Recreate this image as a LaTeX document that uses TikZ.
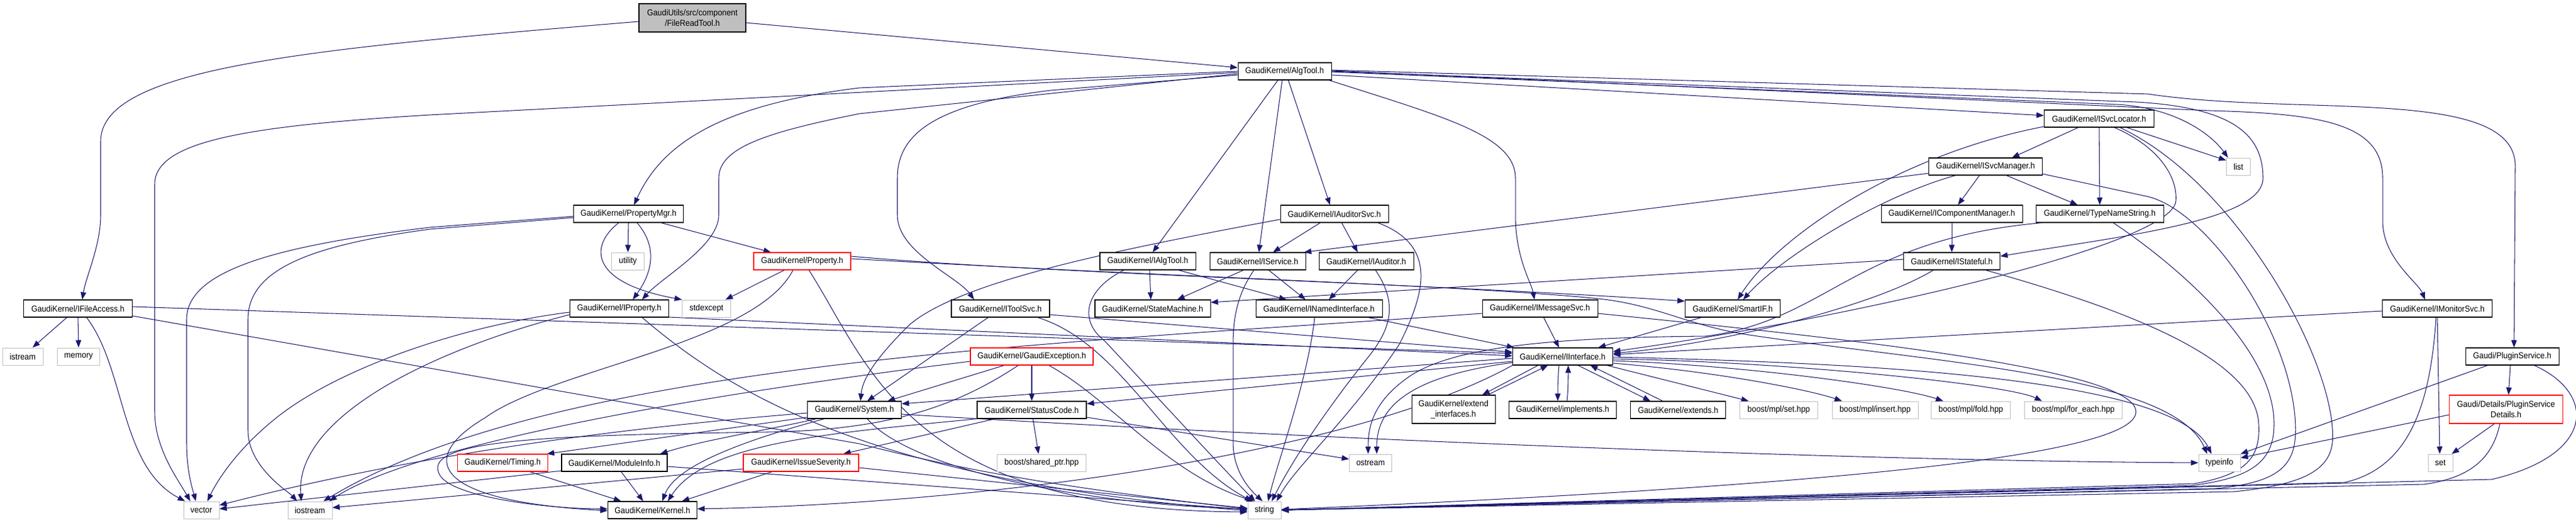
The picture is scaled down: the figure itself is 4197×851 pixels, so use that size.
\documentclass[tikz,border=0pt]{standalone}
\usepackage{fontspec}
\setmainfont{Liberation Sans}[FakeStretch=0.92]
\usetikzlibrary{arrows.meta}
\definecolor{edgec}{HTML}{191970}
\definecolor{greyb}{HTML}{BFBFBF}
\definecolor{redb}{HTML}{FF0000}
\definecolor{fillg}{HTML}{BFBFBF}
\pgfdeclarelayer{bg}
\pgfsetlayers{bg,main}
\begin{document}
\begin{tikzpicture}[x=1pt,y=1pt,
  nb/.style={rectangle, draw=black, line width=1.05pt, fill=white, inner sep=0pt, minimum height=28pt, align=center, font=\fontsize{14}{16.7}\selectfont, text=black},
  gb/.style={nb, draw=greyb, line width=1pt},
  rb/.style={nb, draw=redb},
  lnk/.style={draw=edgec, line width=1.05pt, -{Triangle[length=12pt,width=9pt]}}]
\useasboundingbox (0,0) rectangle (4197,-851);
% ---------- nodes ----------
\node[nb, fill=fillg, minimum width=174pt, minimum height=46pt] (frt) at (1128,-29) {GaudiUtils/src/component\\/FileReadTool.h};
\node[nb, minimum width=152pt] (algtool) at (2093,-116) {GaudiKernel/AlgTool.h};
\node[nb, minimum width=179pt] (svcloc) at (3420,-193) {GaudiKernel/ISvcLocator.h};
\node[nb, minimum width=185pt] (svcmgr) at (3235,-271) {GaudiKernel/ISvcManager.h};
\node[gb, minimum width=39pt] (list) at (3647,-271) {list};
\node[nb, minimum width=179pt] (propmgr) at (1024,-348) {GaudiKernel/PropertyMgr.h};
\node[nb, minimum width=176pt] (audsvc) at (2174,-348) {GaudiKernel/IAuditorSvc.h};
\node[nb, minimum width=230pt] (compmgr) at (3180,-348) {GaudiKernel/IComponentManager.h};
\node[nb, minimum width=208pt] (typename) at (3421,-348) {GaudiKernel/TypeNameString.h};
\node[gb, minimum width=53pt] (utility) at (1023,-425) {utility};
\node[rb, minimum width=158pt] (property) at (1307,-425) {GaudiKernel/Property.h};
\node[nb, minimum width=156pt] (ialgtool) at (1870,-425) {GaudiKernel/IAlgTool.h};
\node[nb, minimum width=156pt] (iservice) at (2049,-425) {GaudiKernel/IService.h};
\node[nb, minimum width=154pt] (iauditor) at (2226,-425) {GaudiKernel/IAuditor.h};
\node[nb, minimum width=157pt] (istateful) at (3180,-425) {GaudiKernel/IStateful.h};
\node[nb, minimum width=177pt] (ifile) at (127,-502) {GaudiKernel/IFileAccess.h};
\node[nb, minimum width=161pt] (iprop) at (1009,-502) {GaudiKernel/IProperty.h};
\node[gb, minimum width=79pt] (stdexcept) at (1151,-502) {stdexcept};
\node[nb, minimum width=160pt] (itoolsvc) at (1630,-502) {GaudiKernel/IToolSvc.h};
\node[nb, minimum width=188pt] (statemach) at (1878,-502) {GaudiKernel/StateMachine.h};
\node[nb, minimum width=206pt] (inamed) at (2149,-502) {GaudiKernel/INamedInterface.h};
\node[nb, minimum width=188pt] (imsg) at (2509,-502) {GaudiKernel/IMessageSvc.h};
\node[nb, minimum width=155pt] (smartif) at (2823,-502) {GaudiKernel/SmartIF.h};
\node[nb, minimum width=179pt] (imon) at (3971,-502) {GaudiKernel/IMonitorSvc.h};
\node[gb, minimum width=66pt] (istream) at (37,-580) {istream};
\node[gb, minimum width=69pt] (memory) at (128,-580) {memory};
\node[rb, minimum width=200pt] (gexc) at (1681,-580) {GaudiKernel/GaudiException.h};
\node[nb, minimum width=163pt] (iint) at (2546,-580) {GaudiKernel/IInterface.h};
\node[nb, minimum width=152pt] (plugin) at (4093,-580) {Gaudi/PluginService.h};
\node[nb, minimum width=153pt] (system) at (1392,-667) {GaudiKernel/System.h};
\node[nb, minimum width=178pt] (status) at (1681,-667) {GaudiKernel/StatusCode.h};
\node[nb, minimum width=136pt, minimum height=46pt] (extint) at (2368,-666) {GaudiKernel/extend\\\_interfaces.h};
\node[nb, minimum width=175pt] (impl) at (2546,-667) {GaudiKernel/implements.h};
\node[nb, minimum width=155pt] (extends) at (2734,-667) {GaudiKernel/extends.h};
\node[gb, minimum width=127pt] (mplset) at (2898,-667) {boost/mpl/set.hpp};
\node[gb, minimum width=140pt] (mplins) at (3055,-667) {boost/mpl/insert.hpp};
\node[gb, minimum width=129pt] (mplfold) at (3211,-667) {boost/mpl/fold.hpp};
\node[gb, minimum width=159pt] (mplfe) at (3378,-667) {boost/mpl/for\_each.hpp};
\node[rb, minimum width=185pt, minimum height=46pt] (psd) at (4083,-666) {Gaudi/Details/PluginService\\Details.h};
\node[rb, minimum width=147pt] (timing) at (819,-753) {GaudiKernel/Timing.h};
\node[nb, minimum width=172pt] (modinfo) at (1001,-753) {GaudiKernel/ModuleInfo.h};
\node[rb, minimum width=188pt] (issue) at (1305,-753) {GaudiKernel/IssueSeverity.h};
\node[gb, minimum width=145pt] (shptr) at (1697,-753) {boost/shared\_ptr.hpp};
\node[gb, minimum width=69pt] (ostream) at (2233,-753) {ostream};
\node[gb, minimum width=68pt] (typeinfo) at (3616,-753) {typeinfo};
\node[gb, minimum width=40pt] (set) at (3976,-753) {set};
\node[gb, minimum width=58pt] (vector) at (328,-830) {vector};
\node[gb, minimum width=72pt] (iostream) at (505,-830) {iostream};
\node[nb, minimum width=145pt] (kernel) at (1063,-830) {GaudiKernel/Kernel.h};
\node[gb, minimum width=54pt] (string) at (2060,-830) {string};
% ---------- edges ----------
\begin{pgfonlayer}{bg}
\fill[white] (0,0) rectangle (4197,-851);
% FileReadTool
\draw[lnk] ([yshift=-8pt]frt.east) -- ([yshift=6pt]algtool.west);
\draw[lnk] ([yshift=-6pt]frt.west) .. controls (500,-80) and (164,-110) .. (164,-230) -- (164,-350) .. controls (164,-400) and (140,-450) .. ([xshift=7pt]ifile.north);
% AlgTool
\draw[lnk] ([yshift=-2pt]algtool.west) -- (700,-187) .. controls (400,-205) and (252,-230) .. (252,-300) -- (252,-670) .. controls (252,-730) and (290,-780) .. ([xshift=-18pt]vector.north);
\draw[lnk] (algtool.west) -- (1400,-143) .. controls (1180,-170) and (1080,-230) .. ([xshift=9pt]propmgr.north);
\draw[lnk] ([yshift=-4pt]algtool.west) -- (1400,-185) .. controls (1250,-215) and (1171,-240) .. (1171,-290) -- (1171,-350) .. controls (1171,-400) and (1080,-450) .. ([xshift=37pt]iprop.north);
\draw[lnk] ([yshift=-6pt]algtool.west) -- (1712,-147) .. controls (1520,-170) and (1462,-220) .. (1462,-290) -- (1462,-350) .. controls (1462,-410) and (1560,-450) .. ([xshift=-43pt]itoolsvc.north);
\draw[lnk] ([xshift=-11pt]algtool.south) -- ([xshift=8pt]ialgtool.north);
\draw[lnk] ([xshift=-4pt]algtool.south) -- ([xshift=2pt]iservice.north);
\draw[lnk] ([xshift=6pt]algtool.south) -- ([xshift=-7pt]audsvc.north);
\draw[lnk] ([xshift=-4pt]algtool.south east) .. controls (2350,-190) and (2469,-220) .. (2469,-290) -- (2469,-350) .. controls (2469,-420) and (2495,-460) .. ([xshift=-9pt]imsg.north);
\draw[lnk] ([yshift=-6pt]algtool.east) -- ([yshift=5pt]svcloc.west);
\draw[lnk] ([yshift=-1pt]algtool.east) -- (3450,-170) .. controls (3540,-175) and (3600,-215) .. ([xshift=3pt]list.north west);
\draw[lnk] (algtool.east) -- (3480,-166) .. controls (3640,-175) and (3687,-220) .. (3687,-290) .. controls (3687,-360) and (3450,-385) .. ([yshift=8pt]istateful.east);
\draw[lnk] ([yshift=1pt]algtool.east) -- (3600,-180) .. controls (3780,-185) and (3882,-200) .. (3882,-290) -- (3882,-360) .. controls (3882,-420) and (3940,-460) .. ([xshift=-20pt]imon.north);
\draw[lnk] ([yshift=2pt]algtool.east) -- (3500,-153) .. controls (3750,-190) and (4098,-140) .. (4098,-270) -- ([xshift=3pt]plugin.north);
% ISvcLocator
\draw[lnk] ([xshift=-34pt]svcloc.south) -- ([xshift=43pt]svcmgr.north);
\draw[lnk] (svcloc.south) -- (typename.north);
\draw[lnk] ([yshift=-13pt]svcloc.west) .. controls (3100,-250) and (2900,-380) .. ([xshift=8pt]smartif.north);
\draw[lnk] ([xshift=25pt]svcloc.south) .. controls (3520,-240) and (3548,-290) .. (3545,-327) .. controls (3540,-400) and (3000,-520) .. ([yshift=8pt]iint.east);
\draw[lnk] ([xshift=45pt]svcloc.south) -- ([yshift=10pt]list.west);
\draw[lnk] ([xshift=34pt]svcloc.south) .. controls (3650,-300) and (3810,-600) .. (3800,-720) .. controls (3795,-770) and (3740,-790) .. (3640,-800) -- (string.east);
% ISvcManager
\draw[lnk] ([xshift=-10pt]svcmgr.south) -- ([xshift=10pt]compmgr.north);
\draw[lnk] ([xshift=34pt]svcmgr.south) -- ([xshift=-36pt]typename.north);
\draw[lnk] ([xshift=-49pt]svcmgr.south) .. controls (3060,-320) and (2900,-420) .. ([xshift=17pt]smartif.north);
\draw[lnk] ([yshift=-11pt]svcmgr.west) -- ([xshift=-3pt]iservice.north east);
\draw[lnk] ([yshift=-12pt]svcmgr.east) -- (3500,-320) .. controls (3600,-345) and (3740,-550) .. (3740,-700) .. controls (3740,-760) and (3710,-785) .. (3610,-795) -- (string.east);
\draw[lnk] (compmgr) -- (istateful);
% TypeNameString
\draw[lnk] ([xshift=10pt]typename.south west) .. controls (3020,-390) and (2980,-520) .. (2780,-547) .. controls (2560,-549) and (2380,-560) .. (2300,-610) .. controls (2240,-650) and (2229,-690) .. ([xshift=-4pt]ostream.north);
\draw[lnk] ([xshift=22pt]typename.south) .. controls (3530,-420) and (3705,-560) .. (3705,-690) .. controls (3705,-750) and (3670,-778) .. (3570,-790) -- (string.east);
% IStateful
\draw[lnk] ([yshift=3pt]istateful.west) -- ([yshift=10pt]statemach.east);
\draw[lnk] ([xshift=-30pt]istateful.south) .. controls (3050,-500) and (2800,-560) .. ([yshift=5pt]iint.east);
\draw[lnk] ([xshift=55pt]istateful.south) .. controls (3450,-500) and (3675,-580) .. (3680,-690) .. controls (3683,-745) and (3660,-772) .. (3575,-787) -- (string.east);
% IMonitorSvc
\draw[lnk] ([yshift=-4pt]imon.west) -- ([yshift=3pt]iint.east);
\draw[lnk] (imon.south) -- ([xshift=-1pt]set.north);
\draw[lnk] ([xshift=-2pt]imon.south) .. controls (3960,-650) and (3930,-760) .. (3820,-785) -- (string.east);
% PluginService
\draw[lnk] ([xshift=-3pt]plugin.south) -- ([xshift=4pt]psd.north);
\draw[lnk] ([xshift=-40pt]plugin.south) -- (typeinfo.north east);
\draw[lnk] ([xshift=36pt]plugin.south) .. controls (4230,-640) and (4230,-740) .. (4060,-780) -- (string.east);
\draw[lnk] ([yshift=-9pt]psd.west) -- ([yshift=8pt]typeinfo.east);
\draw[lnk] ([xshift=-19pt]psd.south) -- ([xshift=-2pt]set.north east);
\draw[lnk] ([xshift=-10pt]psd.south) .. controls (4060,-750) and (4020,-778) .. (3950,-788) -- (string.east);
% IInterface
\draw[lnk] ([xshift=-40pt]iint.south) -- ([xshift=47pt]extint.north);
\draw[lnk] ([xshift=56pt]extint.north) -- ([xshift=-24pt]iint.south);
\draw[lnk] ([xshift=-6pt]iint.south) .. controls (2538,-615) and (2538,-635) .. ([xshift=-8pt]impl.north);
\draw[lnk] ([xshift=7pt]impl.north) .. controls (2555,-635) and (2555,-615) .. ([xshift=9pt]iint.south);
\draw[lnk] ([xshift=25pt]iint.south) -- ([xshift=-45pt]extends.north);
\draw[lnk] ([xshift=-25pt]extends.north) -- ([xshift=45pt]iint.south);
\draw[lnk] ([xshift=-10pt]iint.south east) -- ([xshift=-49pt]mplset.north);
\draw[lnk] ([yshift=-11pt]iint.east) .. controls (2800,-605) and (2950,-635) .. ([xshift=-54pt]mplins.north);
\draw[lnk] ([yshift=-7pt]iint.east) .. controls (2850,-595) and (3100,-630) .. ([xshift=-45pt]mplfold.north);
\draw[lnk] ([yshift=-4pt]iint.east) .. controls (2900,-588) and (3270,-625) .. ([xshift=-51pt]mplfe.north);
\draw[lnk] ([yshift=-10pt]iint.west) .. controls (2300,-612) and (2243,-660) .. ([xshift=10pt]ostream.north);
\draw[lnk] ([yshift=-1pt]iint.east) .. controls (3000,-590) and (3540,-610) .. ([xshift=-13pt]typeinfo.north);
\draw[lnk] ([yshift=-3pt]iint.west) -- ([yshift=10pt]system.east);
\draw[lnk] ([yshift=-8pt]iint.west) -- ([yshift=10pt]status.east);
\draw[lnk] (iint.south west) .. controls (2200,-740) and (1600,-820) .. ([yshift=2pt]kernel.east);
% System
\draw[lnk] ([yshift=-5pt]system.west) .. controls (900,-705) and (600,-760) .. ([yshift=8pt]vector.east);
\draw[lnk] ([xshift=21pt]system.south) .. controls (1480,-760) and (1750,-820) .. ([yshift=2pt]string.west);
\draw[lnk] ([xshift=-49pt]system.south) .. controls (1200,-720) and (1100,-760) .. ([xshift=16pt]kernel.north);
\draw[lnk] ([yshift=-12pt]system.west) -- ([xshift=-2pt]timing.north east);
\draw[lnk] ([xshift=-62pt]system.south) .. controls (1250,-700) and (1150,-715) .. ([xshift=-12pt]modinfo.north east);
\draw[lnk] ([yshift=-7pt]system.east) .. controls (2100,-712) and (3000,-750) .. (typeinfo.west);
% StatusCode
\draw[lnk] ([xshift=2pt]status.south) -- ([xshift=-5pt]shptr.north);
\draw[lnk] ([yshift=-12pt]status.east) -- ([yshift=6pt]ostream.west);
\draw[lnk] ([xshift=-60pt]status.south) -- ([xshift=69pt]issue.north);
\draw[lnk] (status.south west) .. controls (1350,-705) and (1150,-720) .. ([xshift=25pt]kernel.north);
% GaudiException
\draw[lnk] ([xshift=-45pt]gexc.south) -- ([xshift=-23pt]system.north east);
\draw[lnk] (gexc) -- (status);
\draw[lnk] ([xshift=28pt]gexc.south) .. controls (1810,-650) and (1900,-770) .. ([xshift=-17pt]string.north);
\draw[lnk] ([xshift=-22pt]gexc.south) .. controls (1560,-660) and (1450,-700) .. (1250,-703) .. controls (900,-708) and (690,-715) .. (715,-770) .. controls (730,-810) and (900,-828) .. ([yshift=2pt]kernel.west);
\draw[lnk] ([yshift=-8pt]gexc.west) .. controls (1000,-660) and (650,-740) .. ([xshift=-5pt]iostream.north east);
% Property
\draw[lnk] ([xshift=-29pt]property.south) -- ([xshift=-9pt]stdexcept.north east);
\draw[lnk] ([xshift=-15pt]property.south) .. controls (1230,-560) and (900,-600) .. (790,-680) .. controls (680,-745) and (700,-815) .. ([yshift=-1pt]kernel.west);
\draw[lnk] ([xshift=11pt]property.south) .. controls (1420,-600) and (1480,-830) .. ([yshift=-3pt]string.west);
\draw[lnk] ([yshift=8pt]property.east) .. controls (1700,-445) and (2300,-460) .. ([yshift=12pt]smartif.west);
\draw[lnk] ([yshift=4pt]property.east) .. controls (1900,-450) and (2400,-465) .. (2604,-486) .. controls (2700,-496) and (2750,-530) .. (2850,-545) .. controls (3150,-590) and (3540,-610) .. ([xshift=-20pt]typeinfo.north);
% IFileAccess
\draw[lnk] ([xshift=-18pt]ifile.south) -- ([xshift=16pt]istream.north);
\draw[lnk] (ifile.south) -- (memory.north);
\draw[lnk] ([xshift=14pt]ifile.south) .. controls (205,-600) and (195,-760) .. ([xshift=3pt]vector.north west);
\draw[lnk] ([yshift=3pt]ifile.east) -- ([yshift=5pt]iint.west);
\draw[lnk] ([yshift=-12pt]ifile.east) -- (1400,-722) .. controls (1550,-760) and (1700,-790) .. ([yshift=2pt]string.west);
% IProperty
\draw[lnk] ([yshift=-14pt]iprop.east) -- ([yshift=1pt]iint.west);
\draw[lnk] ([xshift=37pt]iprop.south) .. controls (1180,-630) and (1400,-780) .. ([yshift=-1pt]string.west);
\draw[lnk] ([yshift=-6pt]iprop.west) .. controls (750,-530) and (550,-600) .. (450,-680) .. controls (380,-736) and (350,-790) .. ([xshift=10pt]vector.north);
\draw[lnk] ([yshift=-10pt]iprop.west) .. controls (700,-570) and (480,-680) .. ([xshift=-14pt]iostream.north);
% PropertyMgr
\draw[lnk] (propmgr.south) -- (utility.north);
\draw[lnk] ([xshift=-16pt]propmgr.south) .. controls (960,-400) and (960,-460) .. (stdexcept.north west);
\draw[lnk] ([xshift=14pt]propmgr.south) .. controls (1070,-400) and (1065,-440) .. ([xshift=22pt]iprop.north);
\draw[lnk] ([xshift=53pt]propmgr.south) -- ([xshift=-51pt]property.north);
\draw[lnk] ([yshift=-4pt]propmgr.west) -- (700,-370) .. controls (450,-400) and (304,-440) .. (304,-520) -- (304,-720) .. controls (304,-770) and (315,-800) .. ([xshift=-9pt]vector.north);
\draw[lnk] ([yshift=-6pt]propmgr.west) -- (700,-373) .. controls (500,-400) and (404,-440) .. (404,-520) -- (404,-700) .. controls (404,-760) and (470,-800) .. ([xshift=-21pt]iostream.north);
% IToolSvc
\draw[lnk] ([xshift=-20pt]itoolsvc.south) -- ([xshift=21pt]system.north);
\draw[lnk] ([xshift=-20pt]itoolsvc.south east) .. controls (1830,-560) and (1900,-740) .. ([xshift=-20pt]string.north);
\draw[lnk] ([yshift=-10pt]itoolsvc.east) -- ([yshift=7pt]iint.west);
% IAlgTool
\draw[lnk] ([xshift=3pt]ialgtool.south) -- ([xshift=-3pt]statemach.north);
\draw[lnk] ([xshift=50pt]ialgtool.south) -- ([xshift=-53pt]inamed.north);
\draw[lnk] ([xshift=-39pt]ialgtool.south) .. controls (1770,-470) and (1755,-520) .. (1800,-555) .. controls (1880,-640) and (1990,-760) .. ([xshift=-15pt]string.north);
% IService
\draw[lnk] ([xshift=-23pt]iservice.south) -- ([xshift=40pt]statemach.north);
\draw[lnk] ([xshift=-6pt]iservice.south) .. controls (2015,-480) and (2009,-520) .. (2009,-560) -- (2009,-720) .. controls (2009,-770) and (2040,-800) .. ([xshift=-3pt]string.north);
\draw[lnk] ([xshift=18pt]iservice.south) -- ([xshift=-22pt]inamed.north);
% IAuditorSvc
\draw[lnk] ([xshift=-23pt]audsvc.south) -- ([xshift=25pt]iservice.north);
\draw[lnk] ([xshift=12pt]audsvc.south) -- ([xshift=-14pt]iauditor.north);
\draw[lnk] ([xshift=71pt]audsvc.south) .. controls (2345,-400) and (2320,-480) .. (2280,-560) .. controls (2200,-680) and (2110,-760) .. ([xshift=20pt]string.north);
\draw[lnk] ([yshift=-9pt]audsvc.west) .. controls (1800,-410) and (1560,-460) .. (1480,-530) .. controls (1420,-590) and (1405,-620) .. ([xshift=10pt]system.north);
% IAuditor
\draw[lnk] ([xshift=-14pt]iauditor.south) -- ([xshift=16pt]inamed.north);
\draw[lnk] ([xshift=15pt]iauditor.south) .. controls (2275,-490) and (2270,-530) .. (2230,-580) .. controls (2150,-680) and (2100,-760) .. ([xshift=12pt]string.north);
% INamedInterface
\draw[lnk] ([xshift=80pt]inamed.south) -- ([xshift=3pt]iint.north west);
\draw[lnk] ([xshift=-7pt]inamed.south) .. controls (2130,-620) and (2085,-740) .. ([xshift=6pt]string.north);
% IMessageSvc
\draw[lnk] ([xshift=6pt]imsg.south) -- ([xshift=-6pt]iint.north);
\draw[lnk] ([yshift=-8pt]imsg.west) .. controls (1700,-560) and (900,-590) .. ([xshift=22pt]iostream.north);
\draw[lnk] ([yshift=-8pt]imsg.east) .. controls (3000,-550) and (3480,-600) .. (3480,-670) .. controls (3480,-740) and (3000,-790) .. ([yshift=1pt]string.east);
% SmartIF
\draw[lnk] ([xshift=-51pt]smartif.south) -- ([xshift=-24pt]iint.north east);
% Timing, ModuleInfo, IssueSeverity
\draw[lnk] ([xshift=44pt]timing.south) -- ([xshift=-51pt]kernel.north);
\draw[lnk] ([xshift=11pt]modinfo.south) -- ([xshift=-15pt]kernel.north);
\draw[lnk] ([yshift=-6pt]modinfo.east) -- ([yshift=1pt]string.west);
\draw[lnk] ([yshift=-13pt]modinfo.west) -- ([yshift=2pt]vector.east);
\draw[lnk] ([xshift=-47pt]issue.south) -- ([xshift=48pt]kernel.north);
\draw[lnk] ([yshift=-10pt]issue.west) -- ([yshift=4pt]iostream.east);
\draw[lnk] ([yshift=-8pt]issue.east) -- ([yshift=3pt]string.west);
\end{pgfonlayer}
\end{tikzpicture}
\end{document}
